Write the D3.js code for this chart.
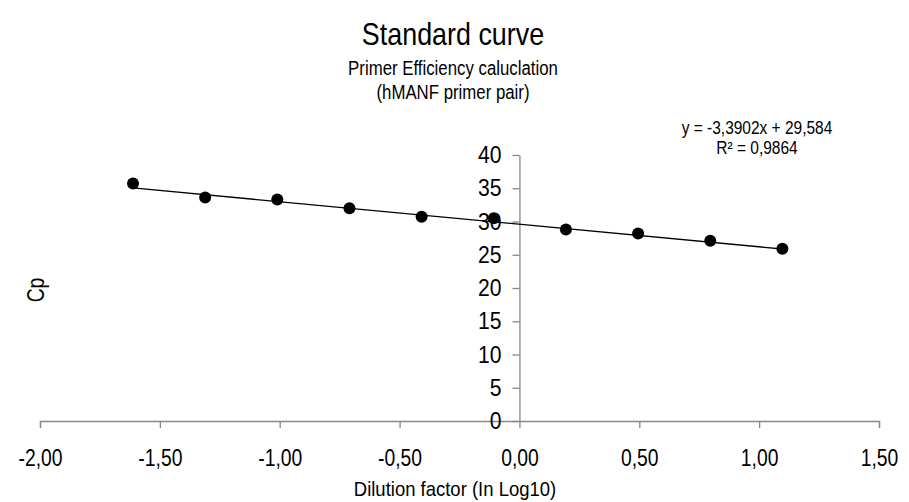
<!DOCTYPE html>
<html><head><meta charset="utf-8">
<script src="https://cdn.jsdelivr.net/npm/d3@7"></script>
<style>body{margin:0;background:#fff}svg{display:block;font-family:"Liberation Sans",Arial,sans-serif}</style>
</head><body><svg id="c" width="909" height="502"></svg>
<script>
const xValues = [-1.612, -1.311, -1.010, -0.709, -0.408, -0.107, 0.194, 0.495, 0.796, 1.097];
const cpValues = [35.7, 33.6, 33.3, 32.0, 30.7, 30.5, 28.8, 28.2, 27.1, 25.9];
const xTicks = [-2, -1.5, -1, -0.5, 0, 0.5, 1, 1.5];
const yTicks = [0, 5, 10, 15, 20, 25, 30, 35, 40];
const slope = -3.3902, intercept = 29.584;
const titleText = "Standard curve";
const subtitleLines = ["Primer Efficiency caluclation", "(hMANF primer pair)"];
const eqText = "y = -3,3902x + 29,584";
const r2Text = "R² = 0,9864";
const xTitle = "Dilution factor (In Log10)";
const yTitle = "Cp";

function narrow(sel, k = 0.84) {
  sel.each(function () {
    const len = this.getComputedTextLength();
    d3.select(this).attr("textLength", len * k).attr("lengthAdjust", "spacingAndGlyphs");
  });
  return sel;
}

const svg = d3.select("#c");
const x = d3.scaleLinear().domain([-2, 1.5]).range([40, 879]);
const y = d3.scaleLinear().domain([0, 40]).range([421, 155]);
const fmt = d => d.toFixed(2).replace(".", ",");
const axisColor = "#888";

// x axis
const gx = svg.append("g").attr("transform", `translate(0,${y(0)})`)
  .call(d3.axisBottom(x).tickValues(xTicks).tickFormat(fmt).tickSize(7).tickPadding(22));
gx.select(".domain").attr("stroke", axisColor).attr("stroke-width", 1.3);
gx.selectAll(".tick line").attr("stroke", axisColor).attr("stroke-width", 1.3);
gx.selectAll("text").attr("font-size", 23).attr("fill", "#000").attr("font-family", "Liberation Sans, Arial, sans-serif");
narrow(gx.selectAll("text"));

// y axis
const gy = svg.append("g").attr("transform", `translate(${x(0)},0)`)
  .call(d3.axisLeft(y).tickValues(yTicks).tickFormat(d3.format("d")).tickSize(7).tickSizeOuter(0).tickPadding(11));
gy.select(".domain").attr("stroke", axisColor).attr("stroke-width", 1.3);
gy.selectAll(".tick line").attr("stroke", axisColor).attr("stroke-width", 1.3);
gy.selectAll("text").attr("font-size", 24).attr("fill", "#000").attr("font-family", "Liberation Sans, Arial, sans-serif");
narrow(gy.selectAll("text"), 0.88);

// trendline
const x0 = d3.min(xValues), x1 = d3.max(xValues);
svg.append("line")
  .attr("x1", x(x0)).attr("y1", y(slope * x0 + intercept))
  .attr("x2", x(x1)).attr("y2", y(slope * x1 + intercept))
  .attr("stroke", "#000").attr("stroke-width", 1.3);

// points
svg.selectAll("circle.pt").data(xValues.map((v, i) => [v, cpValues[i]])).enter()
  .append("circle").attr("class", "pt")
  .attr("cx", d => x(d[0])).attr("cy", d => y(d[1])).attr("r", 6).attr("fill", "#000");

// titles
narrow(svg.append("text").attr("x", 453).attr("y", 45).attr("text-anchor", "middle").attr("font-size", 32).text(titleText));
narrow(svg.append("text").attr("x", 453).attr("y", 75).attr("text-anchor", "middle").attr("font-size", 20).text(subtitleLines[0]));
narrow(svg.append("text").attr("x", 453).attr("y", 99).attr("text-anchor", "middle").attr("font-size", 20).text(subtitleLines[1]));

// equation
narrow(svg.append("text").attr("x", 757).attr("y", 134).attr("text-anchor", "middle").attr("font-size", 18).text(eqText), 0.86);
narrow(svg.append("text").attr("x", 757).attr("y", 154).attr("text-anchor", "middle").attr("font-size", 18).text(r2Text), 0.86);

// axis titles
narrow(svg.append("text").attr("x", 455).attr("y", 496).attr("text-anchor", "middle").attr("font-size", 21).text(xTitle), 0.88);
narrow(svg.append("text").attr("transform", "translate(44,290) rotate(-90)").attr("text-anchor", "middle").attr("font-size", 23).text(yTitle));
</script></body></html>
